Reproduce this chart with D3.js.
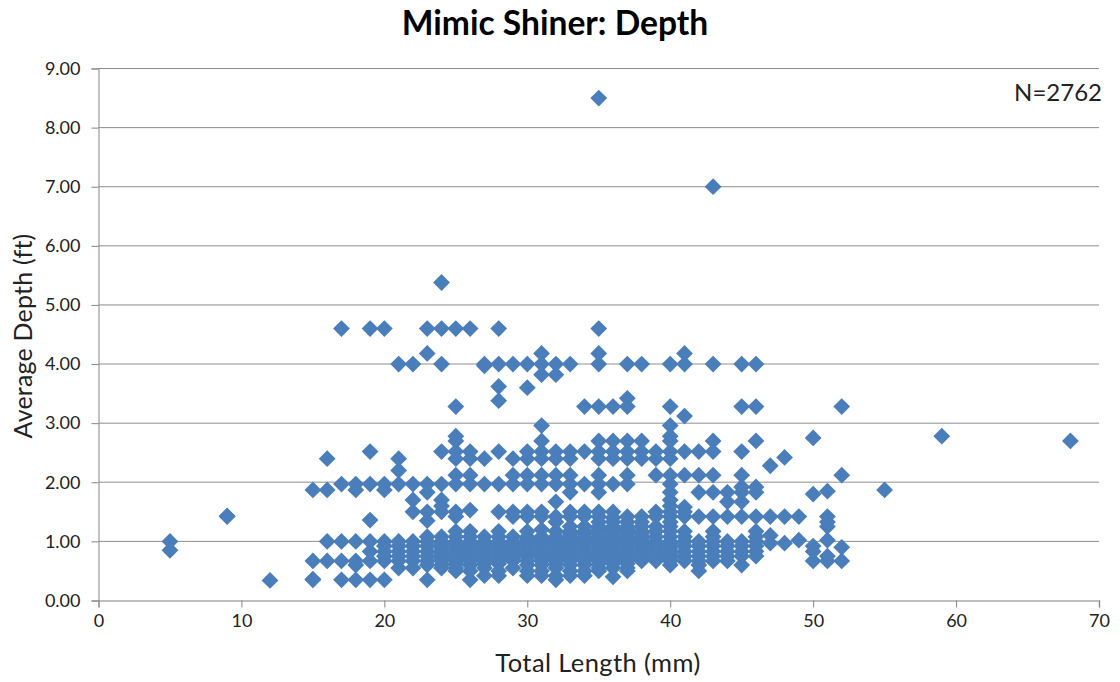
<!DOCTYPE html>
<html><head><meta charset="utf-8">
<script src="https://cdn.jsdelivr.net/npm/d3@7"></script>
<style>html,body{margin:0;background:#fff}svg{display:block}text{font-family:Lato,"Open Sans",sans-serif}</style>
</head><body><svg id="c" width="1120" height="682"></svg>
<script>
const titleText = "Mimic Shiner: Depth";
const xTitle = "Total Length (mm)";
const yTitle = "Average Depth (ft)";
const note = "N=2762";
const xTicks = [0,10,20,30,40,50,60,70];
const yTicks = [0,1,2,3,4,5,6,7,8,9];
const lengths = [5,9,12,15,16,17,18,19,20,21,22,23,24,25,26,27,28,29,30,31,32,33,34,35,36,37,38,39,40,41,42,43,44,45,46,47,48,49,50,51,52,55,59,68];
const depths = [
 [1.0,.85],
 [1.42,1.43],
 [.34],
 [.35,.36,.67,1.87],
 [.67,1.0,1.87,2.4],
 [.35,.67,1.0,1.97,4.6],
 [.35,.6,.67,1.0,1.87,1.97],
 [.35,.67,.83,1.0,1.36,1.97,2.52,4.6],
 [.35,.67,.75,.83,.92,1.0,1.87,1.97,4.6],
 [.55,.67,.75,.83,.92,1.0,1.97,2.2,2.4,4.0],
 [.55,.67,.75,.83,.92,1.0,1.5,1.7,1.97,4.0],
 [.35,.6,.67,.75,.83,.92,1.0,1.08,1.35,1.5,1.83,1.97,4.18,4.6],
 [.55,.6,.67,.71,.75,.79,.83,.88,.92,.96,1.0,1.08,1.5,1.6,1.7,1.97,2.52,4.0,4.6,5.38],
 [.5,.55,.62,.67,.71,.75,.79,.83,.88,.92,.96,1.0,1.08,1.17,1.42,1.5,1.97,2.12,2.4,2.52,2.7,2.78,3.28,4.6],
 [.35,.5,.6,.67,.71,.75,.79,.83,.88,.92,.96,1.0,1.08,1.17,1.53,1.97,2.12,2.4,2.52,4.6],
 [.42,.55,.62,.67,.71,.75,.79,.83,.88,.92,.96,1.0,1.08,1.97,2.4,3.97,4.0],
 [.42,.5,.62,.67,.71,.75,.79,.83,.88,.92,.96,1.0,1.08,1.17,1.5,1.97,2.52,3.38,3.62,4.0,4.6],
 [.55,.67,.71,.75,.79,.83,.88,.92,.96,1.0,1.08,1.42,1.5,1.97,2.12,2.4,4.0],
 [.42,.5,.6,.67,.75,.79,.83,.88,.92,.96,1.0,1.04,1.08,1.17,1.42,1.5,1.97,2.12,2.4,2.52,3.6,4.0],
 [.42,.5,.6,.67,.71,.75,.79,.83,.88,.92,.96,1.0,1.04,1.08,1.2,1.42,1.5,1.97,2.12,2.4,2.52,2.7,2.96,3.82,4.0,4.18],
 [.35,.42,.55,.62,.67,.71,.75,.79,.83,.88,.92,.96,1.0,1.04,1.08,1.17,1.33,1.42,1.67,1.97,2.12,2.4,2.52,3.82,4.0],
 [.42,.5,.6,.67,.71,.75,.79,.83,.88,.92,.96,1.0,1.04,1.08,1.13,1.17,1.25,1.42,1.5,1.83,1.97,2.12,2.4,2.52,4.0],
 [.42,.5,.6,.67,.71,.75,.79,.83,.88,.92,.96,1.0,1.04,1.08,1.13,1.17,1.25,1.42,1.5,1.97,2.52,3.28],
 [.5,.55,.62,.67,.71,.75,.79,.83,.88,.92,.96,1.0,1.04,1.08,1.13,1.17,1.21,1.25,1.33,1.42,1.5,1.83,1.97,2.12,2.4,2.52,2.7,3.28,4.0,4.18,4.6,8.5],
 [.4,.55,.62,.67,.71,.75,.79,.83,.88,.92,.96,1.0,1.04,1.08,1.13,1.17,1.21,1.25,1.33,1.4,1.5,1.97,2.4,2.52,2.7,3.28],
 [.5,.55,.62,.67,.71,.75,.79,.83,.88,.92,.96,1.0,1.04,1.08,1.13,1.17,1.21,1.25,1.33,1.42,1.97,2.12,2.4,2.52,2.7,3.28,3.42,4.0],
 [.67,.71,.75,.79,.83,.88,.92,.96,1.0,1.04,1.08,1.13,1.17,1.25,1.33,1.42,2.4,2.52,2.7,4.0],
 [.67,.71,.75,.79,.83,.88,.92,.96,1.0,1.08,1.17,1.25,1.42,1.5,2.12,2.4,2.52],
 [.6,.67,.71,.75,.79,.83,.88,.92,.96,1.0,1.08,1.17,1.25,1.33,1.42,1.5,1.6,1.7,1.83,1.97,2.12,2.4,2.52,2.7,2.78,2.96,3.28,4.0],
 [.67,.75,.83,.92,1.0,1.08,1.17,1.42,1.5,1.58,2.12,2.52,3.12,4.0,4.18],
 [.5,.6,.67,.75,.83,.92,1.0,1.42,1.83,2.12,2.52],
 [.67,.75,.83,.92,1.0,1.08,1.17,1.42,1.83,2.12,2.52,2.7,4.0,7.0],
 [.67,.75,.83,.92,1.0,1.42,1.67,1.83],
 [.6,.75,.83,.92,1.0,1.42,1.67,1.83,1.92,2.12,2.52,3.28,4.0],
 [.75,.83,.92,1.0,1.08,1.17,1.42,1.83,1.92,2.7,3.28,4.0],
 [.97,1.1,1.42,2.28],
 [.97,1.42,2.42],
 [1.02,1.42],
 [.67,.83,.92,1.8,2.75],
 [.67,.75,1.02,1.25,1.33,1.42,1.85],
 [.67,.9,2.12,3.28],
 [1.87],
 [2.78],
 [2.7]
];
const points = lengths.flatMap((l,i)=>depths[i].map(d=>[l,d]));

const svg = d3.select("#c");
const mLeft=98.5,mRight=1099,mTop=68.5,mBottom=600.5;
const x = d3.scaleLinear().domain([0,70]).range([mLeft,mRight]);
const y = d3.scaleLinear().domain([0,9]).range([mBottom,mTop]);
const axisCol="#868686", txtCol="#222";

svg.append("g").selectAll("line").data(yTicks.slice(1)).join("line")
  .attr("x1",mLeft).attr("x2",mRight).attr("y1",d=>y(d)).attr("y2",d=>y(d))
  .attr("stroke",d=>(d===2||d===4)?"#b4b4b4":"#8c8c8c").attr("stroke-width",d=>(d===2||d===4)?1.5:1);

const gx = svg.append("g").attr("transform",`translate(0,${mBottom})`)
  .call(d3.axisBottom(x).tickValues(xTicks).tickSize(7).tickPadding(7).tickFormat(d3.format("d")));
const gy = svg.append("g").attr("transform",`translate(${mLeft},0)`)
  .call(d3.axisLeft(y).tickValues(yTicks).tickSize(7).tickPadding(11).tickFormat(d3.format(".2f")));
[gx,gy].forEach(g=>{
  g.selectAll("path,line").attr("stroke",axisCol);
  g.selectAll("text").attr("fill",txtCol).style("font-size","18px").style("font-family","Lato");
});
gx.select("path").attr("stroke","#aaa").attr("stroke-width",1.5);

const diamond = d3.symbol().type(d3.symbolSquare).size(2*8.4*8.4);
svg.append("g").selectAll("path").data(points).join("path")
  .attr("d",diamond).attr("fill","#4a7ebb")
  .attr("transform",d=>`translate(${x(d[0])},${y(d[1])}) rotate(45)`);

svg.append("text").attr("x",555).attr("y",35).attr("text-anchor","middle")
  .style("font-size","33.6px").style("font-weight",700).attr("fill","#000").text(titleText);
svg.append("text").attr("x",598).attr("y",672).attr("text-anchor","middle")
  .style("font-size","25.5px").attr("fill",txtCol).style("letter-spacing","0.4px").text(xTitle);
svg.append("text").attr("transform","translate(32,336) rotate(-90)").attr("text-anchor","middle")
  .style("font-size","25px").attr("fill",txtCol).style("letter-spacing","0.2px").text(yTitle);
svg.append("text").attr("x",1102).attr("y",101).attr("text-anchor","end")
  .style("font-size","24px").attr("fill",txtCol).text(note);
</script></body></html>
